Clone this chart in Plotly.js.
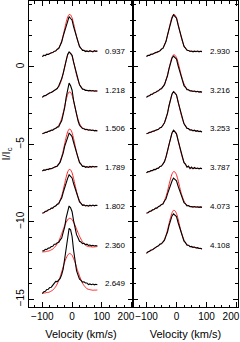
<!DOCTYPE html>
<html>
<head>
<meta charset="utf-8">
<script src="https://cdn.plot.ly/plotly-3.0.1.min.js"></script>
<style>html,body{margin:0;padding:0;background:#fff;}#chart{width:240px;height:342px;}</style>
</head>
<body>
<div id="chart"></div>
<script>
// Velocity grid (km/s)
const velocity = [-100,-95,-90,-85,-80,-75,-70,-65,-60,-55,-50,-45,-40,-35,-30,-25,-20,-15,-10,-5,0,5,10,15,20,25,30,35,40,45,50,55,60,65,70,75,80,85];

// Left panel labels and offsets
const leftLabels = ["0.937","1.218","1.506","1.789","1.802","2.360","2.649"];
const leftOffsets = [0,-2.5,-5,-7.5,-10,-12.5,-15];
// Right panel labels and offsets
const rightLabels = ["2.930","3.216","3.253","3.787","4.073","4.108"];
const rightOffsets = [0,-2.5,-5,-7.5,-10,-12.5];

// Observed profiles (black), normalised I/Ic
const obsP1 = [0.66,0.76,0.72,0.82,0.80,0.87,0.91,0.92,1.01,1.02,1.14,1.18,1.40,1.60,1.98,2.30,2.76,3.00,3.24,3.12,3.01,2.60,2.28,1.84,1.60,1.30,1.20,1.06,1.07,0.99,1.03,0.98,1.04,1.01,0.96,1.05,1.00,1.03];
const obsP2 = [0.53,0.63,0.64,0.72,0.74,0.83,0.84,0.92,0.96,1.08,1.10,1.26,1.45,1.74,2.08,2.52,2.88,3.30,3.46,3.38,3.24,2.80,2.43,1.95,1.67,1.34,1.21,1.06,1.05,0.98,0.99,0.95,0.98,0.94,0.97,0.93,0.96,0.92];
const obsP3 = [0.70,0.71,0.78,0.77,0.84,0.85,0.92,0.91,1.00,1.02,1.11,1.13,1.34,1.52,1.93,2.36,3.03,3.50,3.95,3.78,3.49,2.84,2.31,1.78,1.52,1.23,1.15,1.02,1.01,0.95,0.97,0.91,0.94,0.89,0.92,0.87,0.90,0.86];
const obsP4 = [0.78,0.85,0.83,0.89,0.87,0.93,0.92,0.98,0.99,1.06,1.09,1.23,1.35,1.65,1.93,2.37,2.70,3.05,3.22,3.13,3.00,2.62,2.28,1.85,1.60,1.31,1.22,1.07,1.09,1.02,1.06,1.01,1.07,1.03,1.08,1.04,1.07,1.05];
const obsP5 = [0.57,0.58,0.68,0.68,0.78,0.79,0.88,0.88,0.99,1.02,1.13,1.16,1.37,1.53,1.89,2.20,2.60,2.80,3.03,2.94,2.83,2.47,2.17,1.77,1.55,1.28,1.19,1.06,1.09,1.02,1.06,1.01,1.07,1.02,1.08,1.03,1.07,1.05];
const obsP6 = [0.62,0.63,0.72,0.71,0.80,0.81,0.90,0.92,1.05,1.06,1.15,1.16,1.33,1.45,1.82,2.16,2.75,3.17,3.52,3.40,3.15,2.57,2.12,1.67,1.47,1.24,1.20,1.09,1.11,1.03,1.06,0.98,1.00,0.95,0.98,0.94,0.97,0.94];
const obsP7 = [0.36,0.49,0.51,0.63,0.65,0.76,0.78,0.90,1.02,1.15,1.14,1.25,1.34,1.60,1.95,2.60,3.30,4.20,4.58,4.48,4.05,3.17,2.46,1.84,1.56,1.29,1.22,1.11,1.13,1.05,1.05,0.95,0.99,0.94,0.98,0.93,0.97,0.94];
const obsR1 = [0.67,0.74,0.74,0.82,0.81,0.88,0.92,0.95,1.00,1.03,1.15,1.19,1.43,1.63,2.05,2.40,2.86,3.14,3.36,3.27,3.14,2.72,2.37,1.90,1.64,1.32,1.21,1.07,1.06,0.99,1.02,0.97,1.01,0.98,1.02,0.97,1.00,0.98];
const obsR2 = [0.53,0.62,0.64,0.73,0.74,0.83,0.84,0.93,0.95,1.06,1.09,1.23,1.35,1.65,1.92,2.37,2.69,3.06,3.20,3.12,3.00,2.60,2.27,1.83,1.59,1.28,1.18,1.03,1.02,0.94,0.96,0.91,0.94,0.89,0.92,0.87,0.90,0.86];
const obsR3 = [0.70,0.71,0.77,0.78,0.84,0.85,0.91,0.94,0.97,1.07,1.10,1.25,1.39,1.70,2.00,2.49,2.84,3.25,3.40,3.31,3.19,2.76,2.40,1.92,1.65,1.32,1.19,1.03,1.02,0.92,0.94,0.87,0.91,0.84,0.88,0.82,0.85,0.80];
const obsR4 = [0.66,0.74,0.73,0.81,0.80,0.88,0.87,0.95,0.96,1.07,1.10,1.24,1.38,1.69,2.01,2.48,2.85,3.24,3.41,3.30,3.18,2.77,2.39,1.93,1.66,1.31,1.22,1.02,1.10,0.93,1.03,0.92,1.00,0.93,0.97,0.92,0.96,0.92];
const obsR5 = [0.57,0.58,0.68,0.68,0.77,0.79,0.88,0.88,0.99,1.02,1.12,1.14,1.34,1.48,1.80,2.07,2.44,2.63,2.82,2.73,2.65,2.32,2.06,1.69,1.50,1.24,1.16,1.03,1.05,0.97,0.99,0.95,0.98,0.94,0.97,0.93,0.96,0.93];
const obsR6 = [0.46,0.56,0.59,0.68,0.70,0.79,0.82,0.91,0.95,1.06,1.08,1.21,1.31,1.59,1.84,2.25,2.53,2.88,3.01,2.92,2.83,2.47,2.17,1.77,1.55,1.25,1.15,0.99,0.99,0.89,0.91,0.85,0.87,0.81,0.83,0.78,0.79,0.74];

// Model profiles (red)
const modP1 = [0.68,0.72,0.75,0.79,0.82,0.86,0.89,0.93,0.98,1.05,1.12,1.22,1.41,1.67,2.03,2.46,2.87,3.21,3.38,3.35,3.16,2.80,2.37,1.96,1.62,1.36,1.19,1.10,1.05,1.02,1.00,1.00,1.00,1.00,1.00,1.00,1.00,1.00];
const modP2 = [0.55,0.60,0.65,0.70,0.75,0.80,0.85,0.90,0.97,1.05,1.12,1.22,1.42,1.69,2.05,2.49,2.91,3.25,3.43,3.40,3.21,2.84,2.40,1.98,1.64,1.37,1.19,1.09,1.03,1.00,0.97,0.97,0.96,0.96,0.95,0.95,0.94,0.94];
const modP3 = [0.68,0.72,0.75,0.79,0.82,0.86,0.89,0.93,0.98,1.05,1.12,1.22,1.41,1.67,2.03,2.46,2.87,3.21,3.38,3.35,3.16,2.80,2.37,1.96,1.62,1.35,1.17,1.07,1.01,0.97,0.94,0.93,0.92,0.91,0.90,0.89,0.88,0.87];
const modP4 = [0.80,0.82,0.84,0.87,0.89,0.91,0.93,0.96,1.01,1.05,1.13,1.23,1.43,1.70,2.08,2.53,2.95,3.30,3.48,3.45,3.25,2.88,2.43,2.00,1.65,1.38,1.21,1.11,1.07,1.05,1.03,1.03,1.04,1.04,1.05,1.05,1.06,1.06];
const modP5 = [0.55,0.60,0.65,0.70,0.75,0.80,0.85,0.90,0.97,1.05,1.12,1.22,1.41,1.67,2.03,2.46,2.87,3.21,3.38,3.35,3.16,2.80,2.37,1.96,1.62,1.36,1.20,1.11,1.07,1.04,1.03,1.03,1.04,1.04,1.05,1.05,1.06,1.06];
const modP6 = [0.55,0.56,0.57,0.60,0.61,0.64,0.69,0.74,0.83,0.94,1.08,1.25,1.48,1.73,2.00,2.25,2.46,2.63,2.72,2.71,2.64,2.47,2.28,2.03,1.80,1.57,1.38,1.21,1.09,1.00,0.93,0.90,0.89,0.88,0.87,0.88,0.89,0.90];
const modP7 = [0.40,0.41,0.41,0.44,0.44,0.48,0.53,0.59,0.69,0.82,0.99,1.20,1.46,1.77,2.10,2.39,2.65,2.84,2.95,2.93,2.84,2.62,2.38,2.06,1.78,1.50,1.25,1.04,0.89,0.78,0.68,0.64,0.62,0.60,0.58,0.59,0.59,0.60];
const modR1 = [0.68,0.72,0.75,0.79,0.82,0.86,0.89,0.93,0.98,1.05,1.12,1.22,1.41,1.67,2.03,2.46,2.87,3.21,3.38,3.35,3.16,2.80,2.37,1.96,1.62,1.36,1.19,1.10,1.05,1.02,1.00,1.00,1.00,1.00,1.00,1.00,1.00,1.00];
const modR2 = [0.55,0.60,0.65,0.70,0.75,0.80,0.85,0.90,0.97,1.05,1.12,1.21,1.39,1.64,1.99,2.40,2.79,3.12,3.28,3.25,3.10,2.80,2.42,2.02,1.68,1.40,1.20,1.07,1.01,0.97,0.94,0.93,0.92,0.91,0.90,0.89,0.88,0.87];
const modR3 = [0.68,0.72,0.75,0.79,0.82,0.86,0.89,0.93,0.98,1.05,1.12,1.22,1.41,1.67,2.03,2.46,2.87,3.21,3.38,3.35,3.16,2.80,2.37,1.96,1.62,1.35,1.16,1.06,0.99,0.95,0.91,0.90,0.88,0.87,0.85,0.84,0.82,0.81];
const modR4 = [0.68,0.72,0.75,0.79,0.82,0.86,0.89,0.93,0.98,1.05,1.12,1.22,1.41,1.67,2.03,2.46,2.87,3.21,3.38,3.35,3.16,2.80,2.37,1.96,1.62,1.35,1.18,1.08,1.03,0.99,0.97,0.96,0.96,0.95,0.95,0.94,0.94,0.93];
const modR5 = [0.55,0.60,0.65,0.70,0.75,0.80,0.85,0.90,0.97,1.05,1.11,1.20,1.38,1.63,1.97,2.38,2.76,3.08,3.24,3.21,3.03,2.70,2.29,1.90,1.59,1.34,1.17,1.08,1.03,1.00,0.97,0.97,0.96,0.96,0.95,0.95,0.94,0.94];
const modR6 = [0.48,0.54,0.60,0.65,0.71,0.77,0.83,0.88,0.96,1.05,1.11,1.20,1.38,1.63,1.97,2.38,2.76,3.08,3.24,3.21,3.03,2.70,2.29,1.90,1.59,1.32,1.14,1.03,0.97,0.92,0.88,0.87,0.85,0.83,0.81,0.79,0.77,0.75];

// Tick labels
const xTickVals = [-100,0,100,200];
const xTickTextLeft = ["\u2212100","0","100","200\u2007\u2007"];
const xTickTextRight = ["\u2212100","0","100","200\u2007\u2007"];
const labelVelocity = 145;

const leftObs = [obsP1,obsP2,obsP3,obsP4,obsP5,obsP6,obsP7];
const leftMod = [modP1,modP2,modP3,modP4,modP5,modP6,modP7];
const rightObs = [obsR1,obsR2,obsR3,obsR4,obsR5,obsR6];
const rightMod = [modR1,modR2,modR3,modR4,modR5,modR6];

const FONT = "Liberation Sans, Arial, Helvetica, sans-serif";
const traces = [];
const annotations = [];

function addPanel(obsList, modList, offsets, labels, xa, ya) {
  for (let k = 0; k < obsList.length; k++) {
    const off = offsets[k];
    traces.push({
      x: velocity, y: modList[k].map(v => v + off), xaxis: xa, yaxis: ya,
      type: 'scatter', mode: 'lines', line: {color: '#ff2020', width: 1, shape: 'spline', smoothing: 0.6},
      hoverinfo: 'skip'
    });
    traces.push({
      x: velocity, y: obsList[k].map(v => v + off), xaxis: xa, yaxis: ya,
      type: 'scatter', mode: 'lines', line: {color: '#000000', width: 1.1},
      hoverinfo: 'skip'
    });
    annotations.push({
      xref: xa, yref: ya, x: labelVelocity, y: 1 + off, text: labels[k],
      showarrow: false, font: {family: FONT, size: 8, color: '#000'},
      xanchor: 'center', yanchor: 'middle'
    });
  }
}
addPanel(leftObs, leftMod, leftOffsets, leftLabels, 'x', 'y');
addPanel(rightObs, rightMod, rightOffsets, rightLabels, 'x2', 'y2');

const split = 104 / 209;
function xAxis(domain, anchor, ticktext) {
  return {
    domain: domain, anchor: anchor, range: [-145, 205],
    tickmode: 'array', tickvals: xTickVals, ticktext: ticktext,
    ticklabeloverflow: 'allow',
    ticks: 'inside', ticklen: 5, tickwidth: 1, tickcolor: '#000',
    showline: true, linecolor: '#000', linewidth: 1, mirror: 'allticks',
    showgrid: false, zeroline: false,
    minor: {tickmode: 'linear', tick0: 0, dtick: 25, ticks: 'inside', ticklen: 2.5, tickwidth: 1, tickcolor: '#000', showgrid: false},
    tickfont: {family: FONT, size: 10, color: '#000'},
    title: {text: 'Velocity (km/s)', font: {family: FONT, size: 11, color: '#000'}, standoff: 9}
  };
}
function yAxis(anchor, showLabels) {
  const ax = {
    anchor: anchor, range: [-15.5, 4.25],
    tickmode: 'linear', tick0: 0, dtick: 5, tickangle: -90,
    ticks: 'inside', ticklen: 5, tickwidth: 1, tickcolor: '#000',
    showline: true, linecolor: '#000', linewidth: 1, mirror: 'allticks',
    showgrid: false, zeroline: false, showticklabels: showLabels,
    minor: {tickmode: 'linear', tick0: 0, dtick: 1, ticks: 'inside', ticklen: 3, tickwidth: 1, tickcolor: '#000', showgrid: false},
    tickfont: {family: FONT, size: 10, color: '#000'}
  };
  if (showLabels) {
    ax.title = {text: 'I/I<sub>c</sub>', font: {family: FONT, size: 11, color: '#000'}, standoff: 2};
  }
  return ax;
}

const layout = {
  width: 240, height: 342,
  margin: {l: 29, r: 2, t: 1, b: 35},
  paper_bgcolor: '#fff', plot_bgcolor: '#fff',
  showlegend: false,
  xaxis: xAxis([0, split], 'y', xTickTextLeft),
  xaxis2: xAxis([split, 1], 'y2', xTickTextRight),
  yaxis: yAxis('x', true),
  yaxis2: yAxis('x2', false),
  annotations: annotations
};

Plotly.newPlot('chart', traces, layout, {staticPlot: true, displayModeBar: false});
</script>
</body>
</html>
